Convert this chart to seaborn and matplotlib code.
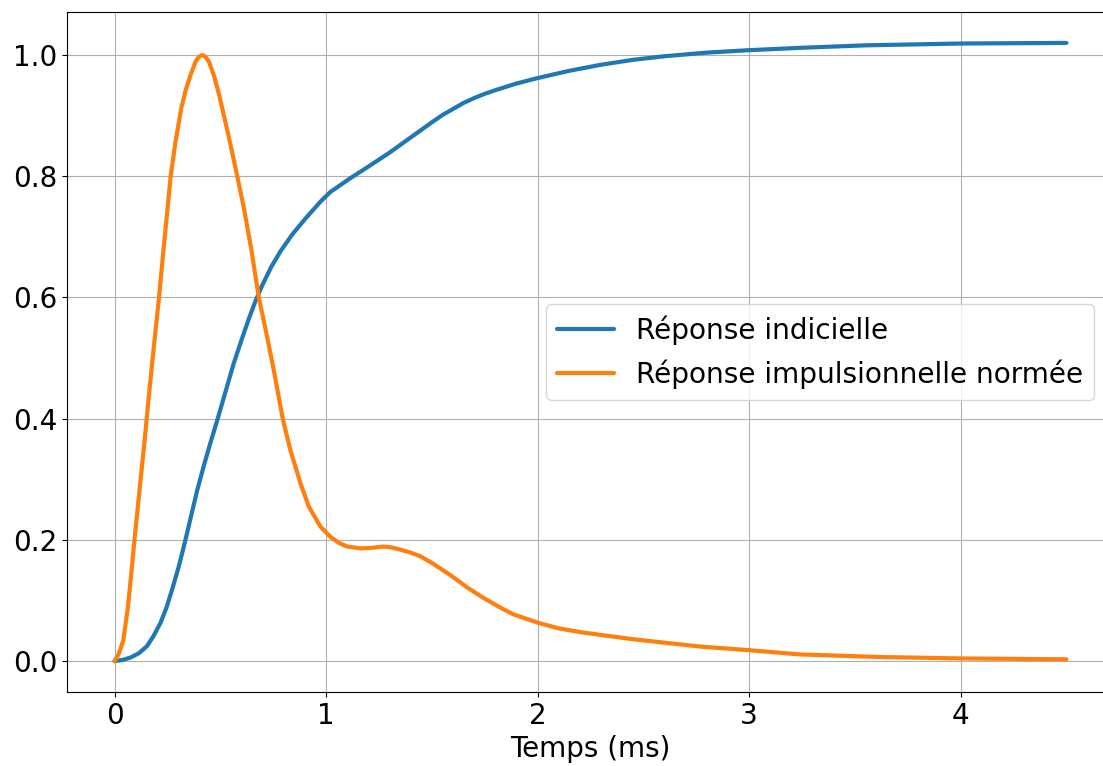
import pandas as pd
import seaborn as sns
import matplotlib.pyplot as plt

# values (time in ms)
t_step = [0, 0.04, 0.076, 0.115, 0.154, 0.185, 0.217, 0.245, 0.272, 0.305, 0.335, 0.362,
          0.39, 0.42, 0.453, 0.485, 0.524, 0.564, 0.608, 0.637, 0.666, 0.698, 0.74,
          0.784, 0.84, 0.902, 0.973, 1.02, 1.107, 1.2, 1.3, 1.4, 1.5, 1.55, 1.6, 1.65,
          1.7, 1.75, 1.8, 1.9, 2.0, 2.15, 2.3, 2.45, 2.6, 2.8, 3.0, 3.25, 3.55, 4.0, 4.5]
step = [0, 0.002, 0.006, 0.013, 0.025, 0.042, 0.063, 0.088, 0.118, 0.158, 0.2, 0.24,
        0.281, 0.32, 0.36, 0.397, 0.444, 0.492, 0.538, 0.567, 0.594, 0.62, 0.65,
        0.676, 0.704, 0.730, 0.758, 0.774, 0.795, 0.816, 0.839, 0.864, 0.889, 0.901,
        0.911, 0.921, 0.929, 0.936, 0.942, 0.953, 0.962, 0.974, 0.984, 0.992, 0.998,
        1.004, 1.008, 1.012, 1.016, 1.019, 1.02]

t_imp = [0, 0.02, 0.041, 0.063, 0.079, 0.094, 0.11, 0.126, 0.142, 0.16, 0.18, 0.21,
         0.233, 0.249, 0.265, 0.288, 0.315, 0.337, 0.359, 0.383, 0.398, 0.414, 0.43,
         0.446, 0.469, 0.49, 0.509, 0.545, 0.58, 0.611, 0.646, 0.682, 0.718, 0.75,
         0.795, 0.831, 0.879, 0.918, 0.973, 1.02, 1.06, 1.10, 1.162, 1.22, 1.27, 1.304,
         1.35, 1.40, 1.445, 1.5, 1.587, 1.665, 1.745, 1.82, 1.886, 2.004, 2.1, 2.217,
         2.453, 2.768, 3.0, 3.24, 3.634, 4.0, 4.5]
imp = [0, 0.012, 0.034, 0.089, 0.145, 0.2, 0.255, 0.31, 0.364, 0.43, 0.50, 0.60,
       0.685, 0.742, 0.80, 0.857, 0.912, 0.943, 0.967, 0.989, 0.997, 1.0, 0.997,
       0.989, 0.967, 0.94, 0.912, 0.857, 0.80, 0.748, 0.68, 0.60, 0.54, 0.485,
       0.40, 0.348, 0.293, 0.255, 0.222, 0.205, 0.195, 0.189, 0.186, 0.187, 0.189, 0.188,
       0.184, 0.179, 0.173, 0.162, 0.142, 0.122, 0.104, 0.089, 0.077, 0.063, 0.054, 0.047,
       0.036, 0.024, 0.018, 0.011, 0.0066, 0.0044, 0.003]

labels = ["Réponse indicielle", "Réponse impulsionnelle normée"]
colors = ["#1f77b4", "#ff7f0e"]


def main():
    df = pd.concat([
        pd.DataFrame({"t": t_step, "v": step, "serie": labels[0]}),
        pd.DataFrame({"t": t_imp, "v": imp, "serie": labels[1]}),
    ])

    sns.set_theme(style="ticks", rc={
        "font.size": 20, "axes.labelsize": 20, "xtick.labelsize": 20,
        "ytick.labelsize": 20, "legend.fontsize": 20.2,
        "axes.edgecolor": "black", "axes.linewidth": 0.8,
        "xtick.color": "black", "ytick.color": "black",
        "text.color": "black", "axes.labelcolor": "black",
        "xtick.major.width": 0.8, "ytick.major.width": 0.8,
        "xtick.major.size": 3.5, "ytick.major.size": 3.5,
    })
    plt.rcParams['font.family'] = ['DejaVu Sans']

    fig = plt.figure(figsize=(11.03, 7.66), dpi=100)
    ax = fig.add_axes([67 / 1103, 74 / 766, 1047 / 1103, 680 / 766])
    sns.lineplot(data=df, x="t", y="v", hue="serie", palette=colors,
                 linewidth=3, errorbar=None, ax=ax)
    ax.grid(True, color="#b0b0b0", linewidth=0.8)
    ax.set_xlabel("Temps (ms)")
    ax.set_ylabel("")
    ax.set_xticks([0, 1, 2, 3, 4])
    ax.set_yticks([0, 0.2, 0.4, 0.6, 0.8, 1.0])
    ax.legend(loc="center right", borderaxespad=0.7, framealpha=0.8)
    fig.savefig("out.png", dpi=100)
    plt.close()


if __name__ == "__main__":
    main()
